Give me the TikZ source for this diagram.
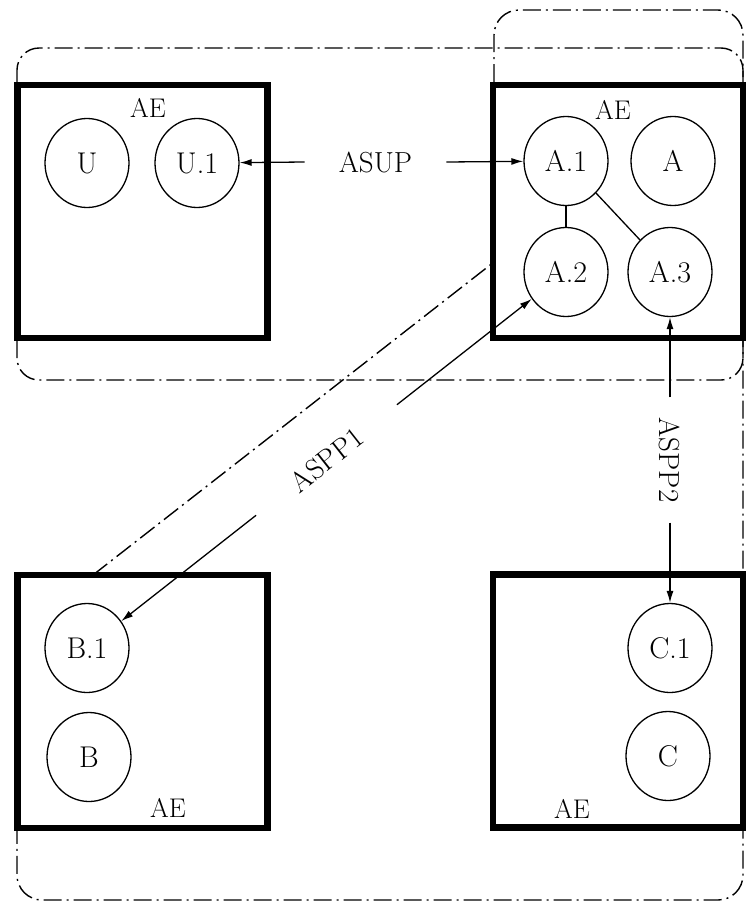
\documentclass[tikz,border=0pt]{standalone}
\usepackage{fontspec}
\usetikzlibrary{arrows.meta,shapes.geometric}

\begin{document}
\begin{tikzpicture}[
  x=1pt, y=-1pt,
  region/.style={line width=1.4pt, dash pattern=on 18pt off 5pt on 2pt off 5pt},
  aebox/.style={draw, line width=6.5pt, minimum width=250pt, minimum height=253pt, inner sep=0pt},
  proc/.style={draw, ellipse, line width=1.3pt, minimum width=84pt, minimum height=89pt,
    inner sep=0pt, font=\fontsize{30}{33}\selectfont},
  tag/.style={font=\fontsize{27}{30}\selectfont},
  proto/.style={font=\fontsize{29}{32}\selectfont},
  link/.style={-{Latex[length=12pt,width=7pt]}, line width=1.3pt},
  bond/.style={line width=1.3pt}
]
\useasboundingbox (0,0) rectangle (746,908);

% dash-dot groupings
\draw[region, rounded corners=22pt] (17,48) rectangle (743,380);
\draw[region, rounded corners=25pt] (494,262) -- (494,10) -- (743,10) -- (743,900)
  -- (17,900) -- (17,828);
\draw[region] (93,575) -- (494,262);

% application entities
\node[aebox] (boxu) at (142.5,211.5) {};
\node[aebox] (boxa) at (618,211.5) {};
\node[aebox] (boxb) at (142.5,701.5) {};
\node[aebox] (boxc) at (618,701) {};

\node[tag] (aeu) at (148,108) {AE};
\node[tag] (aea) at (613,110) {AE};
\node[tag] (aeb) at (168,808) {AE};
\node[tag] (aec) at (572,809) {AE};

% service elements
\node[proc] (u)  at (87,163)  {U};
\node[proc] (u1) at (197,163) {U.1};
\node[proc] (a1) at (566,161) {A.1};
\node[proc] (a)  at (673,161) {A};
\node[proc] (a2) at (566,272) {A.2};
\node[proc] (a3) at (670,272) {A.3};
\node[proc] (b1) at (87,648)  {B.1};
\node[proc] (b)  at (89,757)  {B};
\node[proc] (c1) at (670,648) {C.1};
\node[proc] (c)  at (668,756) {C};

\draw[bond] (a1) -- (a2);
\draw[bond] (a1) -- (a3);

% protocols
\path (u1) -- (a1) node[proto, midway, xshift=-6pt, inner xsep=34pt] (asup) {ASUP};
\draw[link] (asup.west) -- (u1);
\draw[link] (asup.east) -- (a1);

\path (b1) -- (a2) node[proto, midway, sloped, inner xsep=47pt] (aspp1) {ASPP1};
\draw[link] (aspp1.east) -- (a2);
\draw[link] (aspp1.west) -- (b1);

\path (a3) -- (c1) node[proto, midway, rotate=-90, inner xsep=20pt] (aspp2) {ASPP2};
\draw[link] (aspp2.west) -- (a3);
\draw[link] (aspp2.east) -- (c1);

\end{tikzpicture}
\end{document}
